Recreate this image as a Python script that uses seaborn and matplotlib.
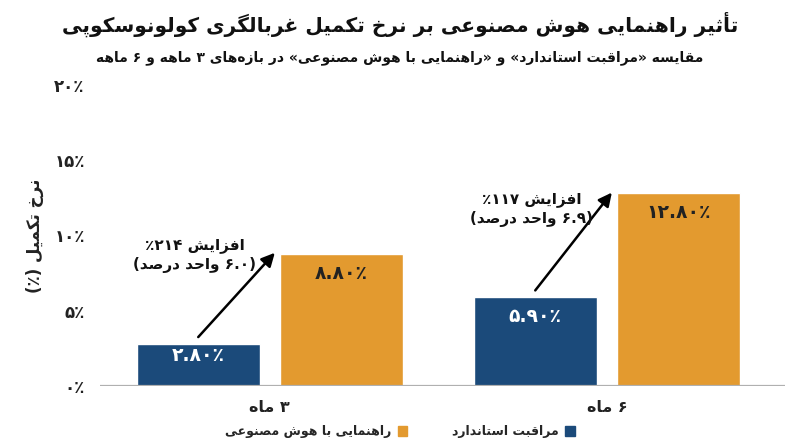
import re
import numpy as np
import pandas as pd
import matplotlib
matplotlib.use("Agg")
import matplotlib.pyplot as plt
import seaborn as sns
from matplotlib.patches import Patch

# --- data -------------------------------------------------------------
periods = ["۳ ماه", "۶ ماه"]
groups = ["مراقبت استاندارد", "راهنمایی با هوش مصنوعی"]
standard_care = [2.8, 5.9]
ai_guided = [8.8, 12.8]
increase_pct = [214, 117]
increase_pts = [6.0, 6.9]
y_ticks = [0, 5, 10, 15, 20]

title = "تأثیر راهنمایی هوش مصنوعی بر نرخ تکمیل غربالگری کولونوسکوپی"
subtitle = "مقایسه «مراقبت استاندارد» و «راهنمایی با هوش مصنوعی» در بازه\u200cهای ۳ ماهه و ۶ ماهه"
y_label = "نرخ تکمیل (٪)"

colors = ["#1b4a7a", "#e39a2f"]

# --- tiny persian shaper (matplotlib has no complex text layout) ------
# isolated, final, initial, medial
FORMS = {
    "ا": (0xFE8D, 0xFE8E, None, None), "أ": (0xFE83, 0xFE84, None, None),
    "آ": (0xFE81, 0xFE82, None, None), "ب": (0xFE8F, 0xFE90, 0xFE91, 0xFE92),
    "پ": (0xFB56, 0xFB57, 0xFB58, 0xFB59), "ت": (0xFE95, 0xFE96, 0xFE97, 0xFE98),
    "ث": (0xFE99, 0xFE9A, 0xFE9B, 0xFE9C), "ج": (0xFE9D, 0xFE9E, 0xFE9F, 0xFEA0),
    "چ": (0xFB7A, 0xFB7B, 0xFB7C, 0xFB7D), "ح": (0xFEA1, 0xFEA2, 0xFEA3, 0xFEA4),
    "خ": (0xFEA5, 0xFEA6, 0xFEA7, 0xFEA8), "د": (0xFEA9, 0xFEAA, None, None),
    "ذ": (0xFEAB, 0xFEAC, None, None), "ر": (0xFEAD, 0xFEAE, None, None),
    "ز": (0xFEAF, 0xFEB0, None, None), "ژ": (0xFB8A, 0xFB8B, None, None),
    "س": (0xFEB1, 0xFEB2, 0xFEB3, 0xFEB4), "ش": (0xFEB5, 0xFEB6, 0xFEB7, 0xFEB8),
    "ص": (0xFEB9, 0xFEBA, 0xFEBB, 0xFEBC), "ض": (0xFEBD, 0xFEBE, 0xFEBF, 0xFEC0),
    "ط": (0xFEC1, 0xFEC2, 0xFEC3, 0xFEC4), "ظ": (0xFEC5, 0xFEC6, 0xFEC7, 0xFEC8),
    "ع": (0xFEC9, 0xFECA, 0xFECB, 0xFECC), "غ": (0xFECD, 0xFECE, 0xFECF, 0xFED0),
    "ف": (0xFED1, 0xFED2, 0xFED3, 0xFED4), "ق": (0xFED5, 0xFED6, 0xFED7, 0xFED8),
    "ک": (0xFB8E, 0xFB8F, 0xFB90, 0xFB91), "گ": (0xFB92, 0xFB93, 0xFB94, 0xFB95),
    "ل": (0xFEDD, 0xFEDE, 0xFEDF, 0xFEE0), "م": (0xFEE1, 0xFEE2, 0xFEE3, 0xFEE4),
    "ن": (0xFEE5, 0xFEE6, 0xFEE7, 0xFEE8), "و": (0xFEED, 0xFEEE, None, None),
    "ه": (0xFEE9, 0xFEEA, 0xFEEB, 0xFEEC), "ی": (0xFBFC, 0xFBFD, 0xFBFE, 0xFBFF),
}
LAM_ALEF = {"ا": (0xFEFB, 0xFEFC), "أ": (0xFEF7, 0xFEF8), "آ": (0xFEF5, 0xFEF6)}
MIRROR = {"(": ")", ")": "(", "«": "»", "»": "«"}


def joins_left(ch):
    return ch in FORMS and FORMS[ch][2] is not None


def shape(text):
    out = []
    i = 0
    while i < len(text):
        ch = text[i]
        prev = text[i - 1] if i > 0 else ""
        nxt = text[i + 1] if i + 1 < len(text) else ""
        if ch == "ل" and nxt in LAM_ALEF:
            out.append(chr(LAM_ALEF[nxt][1 if joins_left(prev) else 0]))
            i += 2
            continue
        if ch in FORMS:
            f = FORMS[ch]
            jp = joins_left(prev)
            jn = f[2] is not None and nxt in FORMS
            if jp and jn:
                out.append(chr(f[3]))
            elif jp:
                out.append(chr(f[1]))
            elif jn:
                out.append(chr(f[2]))
            else:
                out.append(chr(f[0]))
        elif ch != "\u200c":
            out.append(ch)
        i += 1
    return "".join(out)


def rtl(text):
    # shape, then lay out right-to-left keeping number runs left-to-right
    tokens = re.findall(r"[0-9۰-۹][0-9۰-۹.]*|.", shape(text))
    return "".join(MIRROR.get(t, t) for t in reversed(tokens))


def fa_num(s):
    return s.translate(str.maketrans("0123456789%", "۰۱۲۳۴۵۶۷۸۹٪"))


# --- plot -------------------------------------------------------------
df = pd.DataFrame({
    "period": periods * 2,
    "group": [groups[0]] * 2 + [groups[1]] * 2,
    "rate": standard_care + ai_guided,
})

sns.set_theme(style="white")
plt.rcParams["font.family"] = ["DejaVu Sans"]
plt.rcParams["font.weight"] = "bold"

fig = plt.figure(figsize=(8, 4.47), dpi=100)
ax = fig.add_axes([0.125, 0.1365, 0.856, 0.6734])

sns.barplot(data=df, x="period", y="rate", hue="group", hue_order=groups,
            palette=colors, width=0.85, gap=0.14, saturation=1,
            legend=False, ax=ax)

ax.set_ylim(0, 20)
ax.set_xlim(-0.504, 1.528)
for s in ax.spines.values():
    s.set_visible(False)
ax.axhline(0, color="#b0b0b0", lw=1.6, zorder=5)

ax.set_yticks(y_ticks)
ax.set_yticklabels([fa_num(f"{t}%") for t in y_ticks], fontsize=12,
                   fontweight="bold", color="#222222")
ax.set_xticks(range(len(periods)))
ax.set_xticklabels([rtl(p) for p in periods], fontsize=11.5,
                   fontweight="bold", color="#222222")
ax.tick_params(axis="y", length=0, pad=11)
ax.tick_params(axis="x", length=0, pad=10)
ax.set_xlabel("")
ax.set_ylabel(rtl(y_label), fontsize=12, fontweight="bold",
              color="#222222", labelpad=7)

# value labels inside bars
for container, txt_color in zip(ax.containers, ["white", "#222222"]):
    for bar in container:
        v = bar.get_height()
        ax.text(bar.get_x() + bar.get_width() / 2, v - min(1.3, v * 0.27),
                fa_num(f"{v:.2f}%"), ha="center", va="center",
                fontsize=13.5, fontweight="bold", color=txt_color)

# arrows and increase notes
blue_bars = ax.containers[0]
orange_bars = ax.containers[1]
for b, o, pct, pts in zip(blue_bars, orange_bars, increase_pct, increase_pts):
    bx = b.get_x() + b.get_width() / 2
    ox = o.get_x() - 0.015
    ax.annotate("", xy=(ox, o.get_height() + 0.05),
                xytext=(bx, b.get_height() + 0.45),
                arrowprops=dict(arrowstyle="-|>", color="black", lw=1.8,
                                mutation_scale=20, shrinkA=0, shrinkB=0))
    note = rtl(fa_num(f"افزایش {pct}%")) + "\n" + rtl(fa_num(f"({pts:.1f} واحد درصد)"))
    ax.text(bx - 0.01, b.get_height() + 5.85, note, ha="center", va="center",
            fontsize=11, fontweight="bold", color="#111111",
            linespacing=1.35)

# legend (right-to-left: marker after text, first entry on the right)
handles = [Patch(color=colors[1], label=rtl(groups[1])),
           Patch(color=colors[0], label=rtl(groups[0]))]
fig.legend(handles=handles, loc="center", bbox_to_anchor=(0.5, 0.034),
           ncol=2, frameon=False, markerfirst=False, handlelength=0.75,
           handleheight=0.75, handletextpad=0.5, columnspacing=3.6,
           prop={"size": 9, "weight": "bold"})

fig.text(0.5, 0.945, rtl(title), ha="center", va="center", fontsize=14.5,
         fontweight="bold", color="#111111")
fig.text(0.5, 0.872, rtl(subtitle), ha="center", va="center", fontsize=10,
         fontweight="bold", color="#111111")

fig.savefig("out.png", dpi=100, facecolor="white")
